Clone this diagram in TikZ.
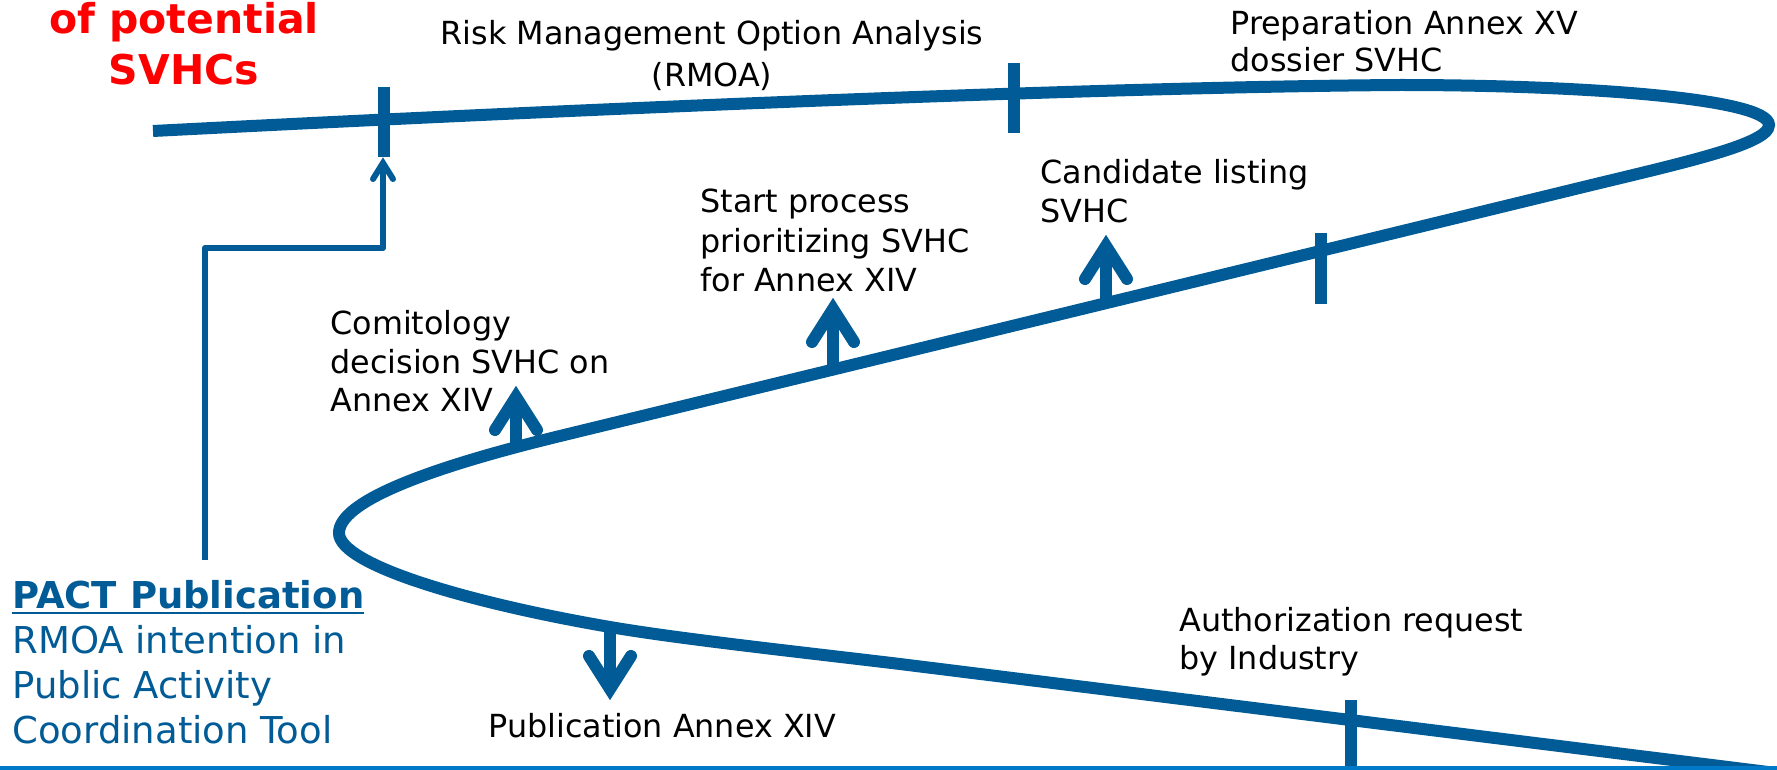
\documentclass[tikz,border=0pt]{standalone}
\usepackage{fontspec}
\setmainfont{DejaVu Sans}
\usetikzlibrary{calc}
\definecolor{reachblue}{RGB}{0,91,150}
\definecolor{bandblue}{RGB}{0,122,200}
\definecolor{alertred}{RGB}{255,0,0}
% underlined heading with a heavier bar
\newcommand{\ulbar}[1]{\vtop{\hbox{#1}\kern1.8pt\hrule height 1pt}}
\begin{document}
\begin{tikzpicture}[x=0.5pt,y=-0.5pt,
  track/.style={draw=reachblue, line width=6pt},
  tickmark/.style={draw=reachblue, line width=6pt},
  shaft/.style={draw=reachblue, line width=6pt},
  chevron/.style={draw=reachblue, line width=6pt, line cap=round, line join=miter},
  link/.style={draw=reachblue, line width=3pt, line join=round},
  linkhead/.style={draw=reachblue, line width=3pt, line cap=round, line join=miter},
  lbl/.style={inner sep=0pt, text=black, font=\fontsize{15.9}{#1}\selectfont},
  pactlbl/.style={inner sep=0pt, text=reachblue, font=\fontsize{18.5}{22.6}\selectfont},
  redlbl/.style={inner sep=0pt, text=alertred, font=\bfseries\fontsize{20.5}{25.5}\selectfont}]
\useasboundingbox (0,0) rectangle (1777,770);
\clip (0,0) rectangle (1777,770);
\fill[white] (0,0) rectangle (1777,770);

% the S-shaped process track
\draw[track] (153,131) .. controls (600,108) and (1100,87) .. (1400,85)
  .. controls (1580,85) and (1769,98) .. (1769,125)
  .. controls (1769,145) and (1677,164) .. (1567,191)
  -- (560,436)
  .. controls (420,470) and (339,503) .. (339,533)
  .. controls (339,565) and (470,603) .. (610,627)
  .. controls (680,639) and (800,652) .. (900,664)
  -- (1720,766) -- (1800,776);

% milestone ticks
\coordinate (rmoaTop) at (384,87);    \coordinate (rmoaBot) at (384,157);
\coordinate (prepTop) at (1014,63);   \coordinate (prepBot) at (1014,133);
\coordinate (candTop) at (1321,233);  \coordinate (candBot) at (1321,304);
\coordinate (authTop) at (1351,700);  \coordinate (authBot) at (1351,775);
\draw[tickmark] (rmoaTop) -- (rmoaBot);
\draw[tickmark] (prepTop) -- (prepBot);
\draw[tickmark] (candTop) -- (candBot);
\draw[tickmark] (authTop) -- (authBot);

% event arrows on the track
\coordinate (comBase) at (516,447);   \coordinate (comTip) at (516,397);
\coordinate (startBase) at (833,370); \coordinate (startTip) at (833,309);
\coordinate (listBase) at (1106,303); \coordinate (listTip) at (1106,246);
\coordinate (pubBase) at (610,627);   \coordinate (pubTip) at (610,689);
\foreach \b/\t in {comBase/comTip, startBase/startTip, listBase/listTip}{
  \draw[shaft] (\b) -- (\t);
  \draw[chevron] ($(\t)+(-21,33)$) -- (\t) -- ($(\t)+(21,33)$);
}
\draw[shaft] (pubBase) -- (pubTip);
\draw[chevron] ($(pubTip)+(-21,-33)$) -- (pubTip) -- ($(pubTip)+(21,-33)$);

% labels
\node[redlbl, anchor=base] (early) at (184,34)
  {\begin{tabular}[t]{@{}c@{}}of potential\\SVHCs\end{tabular}};
\node[lbl=21, anchor=base] (rmoa) at (712,45)
  {\begin{tabular}[t]{@{}c@{}}Risk Management Option Analysis\\(RMOA)\end{tabular}};
\node[lbl=18.5, anchor=base west] (prep) at (1230,35)
  {\begin{tabular}[t]{@{}l@{}}Preparation Annex XV\\dossier SVHC\end{tabular}};
\node[lbl=19.5, anchor=base west] (cand) at (1040,184)
  {\begin{tabular}[t]{@{}l@{}}Candidate listing\\SVHC\end{tabular}};
\node[lbl=19.75, anchor=base west] (start) at (700,213)
  {\begin{tabular}[t]{@{}l@{}}Start process\\prioritizing SVHC\\for Annex XIV\end{tabular}};
\node[lbl=19.25, anchor=base west] (comit) at (330,335)
  {\begin{tabular}[t]{@{}l@{}}Comitology\\decision SVHC on\\Annex XIV\end{tabular}};
\node[lbl=19, anchor=base west] (pub) at (488,737) {Publication Annex XIV};
\node[lbl=19, anchor=base west] (auth) at (1179,631)
  {\begin{tabular}[t]{@{}l@{}}Authorization request\\by Industry\end{tabular}};
\node[pactlbl, anchor=base west] (pact) at (12,608)
  {\begin{tabular}[t]{@{}l@{}}\ulbar{\bfseries PACT Publication}\\RMOA intention in\\Public Activity\\Coordination Tool\end{tabular}};

% PACT link up to the RMOA milestone
\coordinate (pactTop) at (205,560);
\coordinate (rmoaIn) at (383,163);
\draw[link] (pactTop) |- ($(rmoaIn)+(0,85)$) -- (rmoaIn);
\draw[linkhead] ($(rmoaIn)+(-10,16)$) -- (rmoaIn) -- ($(rmoaIn)+(10,16)$);

% footer band
\fill[bandblue] (0,766) rectangle (1777,770);
\end{tikzpicture}
\end{document}
